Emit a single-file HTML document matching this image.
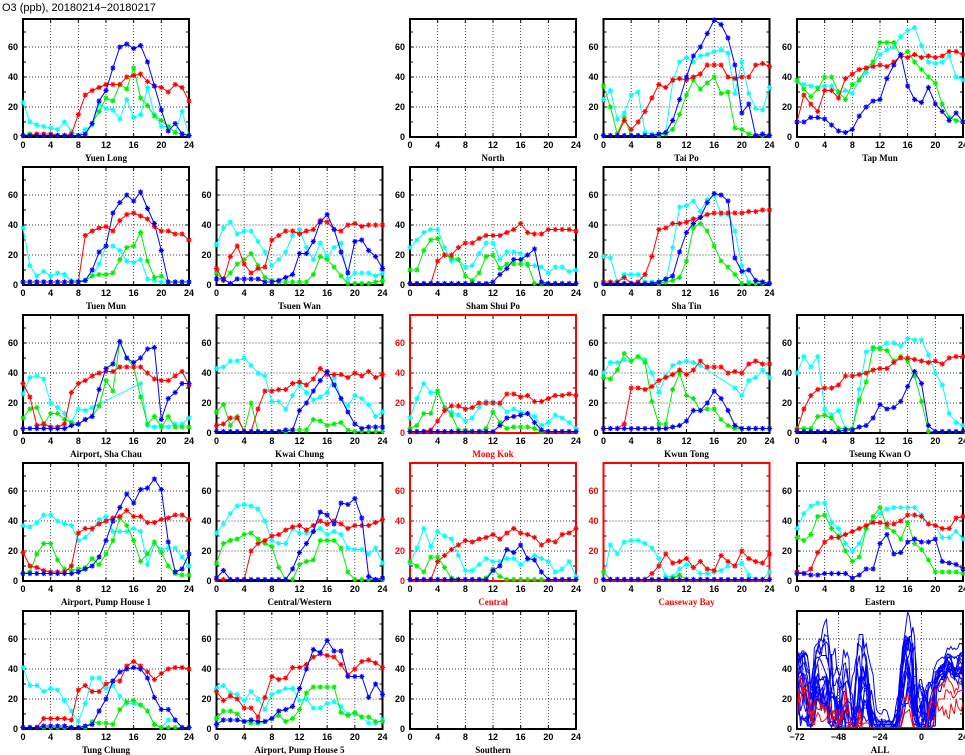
<!DOCTYPE html>
<html><head><meta charset="utf-8"><style>
html,body{margin:0;padding:0;background:#fff;}
svg{display:block;font-family:"Liberation Sans",sans-serif;}
text{font-weight:bold;}
</style></head><body>
<svg id="chart" width="965" height="755" viewBox="0 0 965 755" xmlns="http://www.w3.org/2000/svg">
<text x="2" y="11" font-size="11" font-weight="normal" style="font-weight:normal">O3 (ppb), 20180214−20180217</text>
</svg>
<script>
const hourTicks=[0,4,8,12,16,20,24];
const allTicks=[-72,-48,-24,0,24];
const yTicks=[0,20,40,60];
const stationNames=["Yuen Long","North","Tai Po","Tap Mun","Tuen Mun","Tsuen Wan","Sham Shui Po","Sha Tin","Airport, Sha Chau","Kwai Chung","Mong Kok","Kwun Tong","Tseung Kwan O","Airport, Pump House 1","Central/Western","Central","Causeway Bay","Eastern","Tung Chung","Airport, Pump House 5","Southern"];
const stationCols=[0,2,3,4,0,1,2,3,0,1,2,3,4,0,1,2,3,4,0,1,2];
const stationRows=[0,0,0,0,1,1,1,1,2,2,2,2,2,3,3,3,3,3,4,4,4];
const roadside=["Mong Kok","Central","Causeway Bay"];
const N=null;
const redData=[
[1,1,2,2,2,1,1,2,15,28,31,33,35,35,35,40,41,42,37,34,33,30,35,33,24],
[],
[1,1,1,11,5,10,17,26,35,33,38,39,38,40,42,48,48,48,40,39,40,40,48,49,47],
[10,28,22,17,31,31,26,39,42,45,46,47,48,47,50,54,53,55,53,54,53,54,57,57,55],
[2,2,2,2,2,2,2,2,2,33,36,38,39,36,43,47,48,46,44,39,36,36,34,34,30],
[11,3,19,26,14,8,11,12,30,33,36,36,34,36,37,43,42,37,36,40,41,39,40,40,40],
[1,1,1,1,16,20,20,25,28,28,31,33,33,33,35,37,41,35,34,34,37,37,37,37,36],
[2,2,2,5,1,2,7,19,37,38,41,41,42,44,45,47,48,48,48,48,48,49,49,50,50],
[33,24,5,6,4,4,6,27,33,35,38,40,41,41,44,44,44,44,40,36,35,35,38,41,32],
[5,6,10,10,1,1,16,28,28,29,29,33,34,32,36,43,39,39,39,37,40,38,41,37,39],
[1,1,1,2,8,15,18,18,16,17,20,20,20,20,26,26,24,25,21,21,23,25,25,26,25],
[3,3,3,6,30,30,29,31,35,37,39,42,39,42,48,44,44,44,40,41,40,46,48,46,46],
[2,16,25,29,30,30,32,38,38,39,40,42,43,43,47,50,50,49,48,47,48,46,50,51,51],
[19,10,9,7,6,6,6,10,32,35,35,38,40,42,43,47,43,43,39,39,41,42,44,44,41],
[1,1,1,1,1,20,25,27,30,31,34,36,37,34,37,40,38,40,38,35,37,37,37,39,41],
[1,1,1,1,13,17,21,24,27,26,28,29,31,28,32,35,32,31,29,24,27,26,31,32,35],
[1,1,1,1,1,1,1,5,10,18,12,13,15,9,13,8,7,17,13,10,20,15,13,12,18],
[6,5,8,19,26,29,29,31,33,35,37,39,39,38,38,40,44,44,43,38,37,35,35,42,43],
[1,1,1,7,7,7,7,6,26,29,25,25,30,32,32,42,45,42,38,33,37,40,41,41,40],
[25,19,22,20,14,14,8,21,35,33,34,41,41,43,48,50,49,48,43,36,40,45,46,44,41],
[]];
const greenData=[
[1,2,1,1,1,1,1,1,1,2,9,17,26,24,35,32,46,26,21,14,11,7,3,2,1],
[],
[34,20,2,13,1,1,1,1,1,2,5,15,28,38,32,36,40,29,30,6,5,2,1,1,1],
[38,32,27,32,40,40,30,25,35,38,46,50,63,63,63,54,57,50,45,40,36,22,13,11,10],
[2,2,2,2,2,2,2,2,2,3,6,7,7,8,17,25,26,35,16,5,6,2,2,2,2],
[8,3,8,14,17,21,13,5,3,2,2,2,2,2,7,19,17,12,6,1,1,1,1,2,3],
[10,10,23,30,31,20,18,17,6,3,8,19,20,11,14,14,14,14,1,1,1,1,1,1,1],
[1,1,1,1,1,1,1,1,1,2,3,5,16,38,41,36,26,16,12,7,1,1,1,1,1],
[10,16,17,6,13,13,9,7,6,9,11,18,35,28,61,50,44,24,6,11,4,11,4,4,4],
[14,19,5,11,1,20,1,1,1,1,1,2,2,2,9,8,5,6,7,2,1,1,1,1,1],
[3,5,13,13,28,17,12,2,2,1,1,3,14,7,3,4,4,4,3,1,1,1,1,1,1],
[37,36,42,53,48,51,47,21,6,6,29,40,25,23,15,16,16,9,5,3,3,3,3,3,3],
[3,3,3,11,12,10,3,3,3,22,34,57,56,55,48,51,48,38,21,1,1,1,1,1,1],
[5,6,18,25,25,14,8,7,8,9,15,11,18,27,42,37,27,13,18,26,19,10,5,4,4],
[12,25,27,28,31,32,28,25,23,9,1,1,11,13,14,27,27,27,22,6,1,1,1,1,1],
[13,10,6,16,16,9,2,1,1,1,1,2,8,3,1,1,1,1,1,1,1,1,1,1,1],
[6,1,1,1,1,1,1,1,1,1,2,4,1,1,1,1,1,1,1,1,1,1,1,1,1],
[29,27,31,43,44,35,30,20,13,16,35,43,49,36,33,28,39,25,21,14,6,6,6,6,5],
[1,1,1,1,1,1,1,1,1,1,5,4,4,3,13,18,19,16,12,3,1,1,1,1,1],
[7,12,12,10,5,4,4,5,7,9,5,7,13,24,28,28,28,28,11,9,11,8,8,5,5],
[]];
const blueData=[
[1,1,1,1,1,1,1,1,1,2,9,24,31,46,60,62,59,61,50,34,18,4,9,2,1],
[],
[1,1,1,1,1,1,1,1,2,3,11,25,40,54,60,69,78,75,66,48,16,22,1,2,1],
[10,10,13,13,12,8,4,3,5,14,20,24,25,39,48,55,34,25,23,33,22,17,11,16,10],
[2,2,2,2,2,2,2,2,2,3,10,22,26,48,55,60,56,62,51,41,23,2,2,2,2],
[4,4,1,4,4,4,4,2,2,3,5,7,21,21,29,42,47,37,22,8,29,30,23,19,11],
[1,1,1,1,1,1,1,1,1,1,1,1,2,7,11,17,17,20,24,2,1,1,1,1,1],
[1,1,1,1,1,1,1,1,2,4,6,22,35,41,45,55,61,60,56,18,9,10,3,2,1],
[3,3,3,3,3,3,3,5,6,9,11,29,43,46,61,50,47,50,56,57,9,23,27,33,33],
[1,1,1,1,1,1,1,1,1,1,2,2,15,20,28,35,41,32,23,14,6,3,4,4,4],
[1,1,1,1,1,1,1,1,1,1,1,1,1,5,10,11,12,13,7,2,1,1,1,1,1],
[3,3,3,3,3,3,3,3,3,3,4,5,8,15,15,20,28,23,15,5,3,3,3,3,3],
[1,1,1,1,1,1,1,2,2,4,5,10,19,16,17,21,31,41,33,5,1,1,1,1,1],
[5,5,5,5,5,5,5,5,6,8,10,16,27,40,49,58,52,61,62,68,61,26,6,8,18],
[2,7,1,1,1,1,1,1,1,1,1,8,19,25,33,46,44,38,52,51,55,42,3,1,2],
[1,1,1,1,1,1,1,1,1,1,1,1,7,10,21,19,24,15,14,6,1,1,1,1,1],
[1,1,1,1,1,1,1,1,1,1,1,1,1,1,1,1,1,1,1,1,1,1,1,1,1],
[5,5,4,4,5,5,5,5,2,4,8,8,25,31,18,19,26,28,26,26,28,13,12,11,8],
[1,1,1,2,2,2,2,1,1,2,3,12,20,32,38,40,41,40,34,21,13,13,6,1,1],
[3,6,6,6,5,6,5,5,7,12,13,15,27,40,53,51,59,52,52,35,35,35,21,30,23],
[]];
const cyanData=[
[23,10,8,7,6,5,10,4,1,5,8,22,19,18,12,25,13,15,33,15,7,7,3,17,1],
[],
[25,31,12,16,28,30,3,2,2,3,37,50,53,50,54,55,57,58,56,29,50,29,19,18,33],
[37,35,34,33,34,34,29,31,29,38,43,50,55,58,60,67,71,73,61,50,49,50,54,40,38],
[38,13,6,9,6,8,7,3,3,3,6,14,26,26,23,16,15,17,4,3,2,2,2,2,2],
[27,38,42,34,36,36,29,22,13,17,22,33,37,25,17,28,19,25,28,4,8,8,8,6,8],
[25,30,35,37,37,25,16,17,12,13,21,28,28,17,22,22,21,13,13,12,8,12,12,9,10],
[19,18,2,7,7,7,2,2,2,2,25,52,53,56,49,57,60,47,47,36,13,2,2,2,1],
[26,37,38,36,20,17,13,7,16,15,17,N,N,N,N,N,N,33,5,4,5,4,6,6,10],
[43,44,48,48,50,45,40,38,21,21,16,25,32,27,22,24,27,37,23,18,25,23,19,11,14],
[10,23,33,27,27,17,14,12,8,10,17,21,21,19,14,16,14,13,11,5,7,12,10,7,3],
[40,47,47,49,48,51,49,40,27,38,45,47,48,47,45,N,N,N,N,30,25,35,37,42,37],
[40,51,44,51,16,12,15,3,2,29,54,56,57,60,60,58,63,62,62,52,40,32,13,7,5],
[37,36,39,44,44,40,38,37,27,29,34,41,43,33,33,33,35,33,11,25,21,22,22,16,10],
[32,38,45,50,51,50,48,40,27,25,25,35,32,32,33,35,31,33,31,22,21,21,18,22,12],
[12,22,35,23,33,30,28,17,7,7,11,15,13,13,15,15,11,14,17,15,13,6,8,13,3],
[1,24,18,26,27,27,25,22,15,3,3,8,11,9,5,5,6,7,10,10,12,4,1,1,6],
[35,45,50,52,52,39,35,25,20,25,35,40,45,48,49,49,49,49,44,38,37,29,29,33,28],
[41,29,29,25,27,26,19,12,5,17,34,34,27,29,22,17,17,16,12,3,1,6,6,1,1],
[27,29,24,23,19,25,20,13,23,25,27,27,19,20,14,14,17,18,15,10,10,8,4,4,6],
[]];

const NS='http://www.w3.org/2000/svg';
const svg=document.getElementById('chart');
const PW=166,PH=118,YMAX=78.67;
function mk(tag,attrs,parent){const e=document.createElementNS(NS,tag);for(const k in attrs)e.setAttribute(k,attrs[k]);(parent||svg).appendChild(e);return e;}
function slug(s){return s.toLowerCase().replace(/[^a-z0-9]+/g,'-').replace(/-+$/,'');}
function panelOrigin(col,row){return {x:23+193.5*col,y:19+148*row};}

function drawFrame(g,x0,y0,xmin,xmax,xt,frameColor,labelColor,title,name){
  const sx=v=>x0+(v-xmin)/(xmax-xmin)*PW;
  const sy=v=>y0+PH-v/YMAX*PH;
  xt.forEach(t=>{ if(t>xmin&&t<xmax){const l=mk('line',{x1:sx(t),x2:sx(t),y1:y0,y2:y0+PH,stroke:'#000','stroke-width':0.7,'stroke-dasharray':'1,2'},g);
    
    }});
  [20,40,60].forEach(t=>{const l=mk('line',{x1:x0,x2:x0+PW,y1:sy(t),y2:sy(t),stroke:'#000','stroke-width':0.7,'stroke-dasharray':'1,2'},g);
    
    });
  for(let t=0;t<=70;t+=10){[x0,x0+PW].forEach((xx,i)=>{const tk=mk('line',{x1:xx,x2:xx+(i?-3:3),y1:sy(t),y2:sy(t),stroke:'#000','stroke-width':1},g);
    
    });}
  xt.forEach(t=>{[y0,y0+PH].forEach((yy,i)=>{const tk=mk('line',{x1:sx(t),x2:sx(t),y1:yy,y2:yy+(i?-4:4),stroke:'#000','stroke-width':1},g);
    
    });
    const lb=mk('text',{x:sx(t),y:y0+PH+11,'font-size':9,'text-anchor':'middle',fill:'#000'},g);lb.textContent=String(t).replace('-','−');
    
    });
  yTicks.forEach(t=>{const lb=mk('text',{x:x0-5,y:sy(t)+3,'font-size':9,'text-anchor':'end',fill:labelColor},g);lb.textContent=t;
    
    });
  const fr=mk('rect',{x:x0,y:y0,width:PW,height:PH,fill:'none',stroke:frameColor,'stroke-width':2},g);
  
  
  const tt=mk('text',{x:x0+PW/2,y:y0+PH+24,'font-size':9,'text-anchor':'middle',fill:labelColor,'font-family':'Liberation Serif, serif'},g);tt.textContent=title;
  
  
  return {sx,sy};
}
function drawLine(g,vals,xs,sx,sy,color,markers,name,w){
  let d='';let first=true;
  vals.forEach((v,i)=>{if(v===null)return;d+=(first?'M':'L')+sx(xs[i]).toFixed(1)+','+sy(v).toFixed(1);first=false;});
  const p=mk('path',{d:d,fill:'none',stroke:color,'stroke-width':w||1},g);
  
  
  if(markers){vals.forEach((v,i)=>{if(v===null)return;const cx=sx(xs[i]),cy=sy(v),r=2.6,q=1.9;
    const m=mk('path',{d:`M${cx-r},${cy}L${cx+r},${cy}M${cx},${cy-r}L${cx},${cy+r}M${cx-q},${cy-q}L${cx+q},${cy+q}M${cx-q},${cy+q}L${cx+q},${cy-q}`,stroke:color,'stroke-width':1.1,fill:'none'},g);
    
    });}
}
const hoursX=[];for(let h=0;h<=24;h++)hoursX.push(h);
stationNames.forEach((nm,si)=>{
  const o=panelOrigin(stationCols[si],stationRows[si]);
  const road=roadside.includes(nm);
  const g=mk('g',{});
  
  
  const s=drawFrame(g,o.x,o.y,0,24,hourTicks,road?'#ff0000':'#000',road?'#ff0000':'#000',nm,slug(nm));
  const series=[[cyanData[si],'#00ffff','cyan'],[greenData[si],'#00ee00','green'],[redData[si],'#ff0000','red'],[blueData[si],'#0000ff','blue']];
  series.forEach(([vals,c,cn])=>{if(vals.length)drawLine(g,vals,hoursX,s.sx,s.sy,c,true,slug(nm)+'-'+cn+'-series');});
});
// ALL panel
(function(){
  const o=panelOrigin(4,4);
  const g=mk('g',{});
  
  
  const s=drawFrame(g,o.x,o.y,-72,24,allTicks,'#000','#000','ALL','all-stations');
  const clip=mk('clipPath',{id:'allclip'},g);
  mk('rect',{x:o.x,y:o.y,width:PW,height:PH},clip);
  const lg=mk('g',{'clip-path':'url(#allclip)'},g);
  const days=[[cyanData,-72],[greenData,-48],[blueData,-24],[redData,0]];
  [false,true].forEach(wantRoad=>{
    stationNames.forEach((nm,si)=>{
      if(roadside.includes(nm)!==wantRoad)return;
      days.forEach(([arr,off])=>{const vals=arr[si];if(!vals.length)return;
        const xs=hoursX.map(h=>h+off);
        drawLine(lg,vals,xs,s.sx,s.sy,wantRoad?'#ff0000':'#0000ff',false,'all-'+slug(nm)+'-line',1);});
    });
  });
})();
</script>
</body></html>
